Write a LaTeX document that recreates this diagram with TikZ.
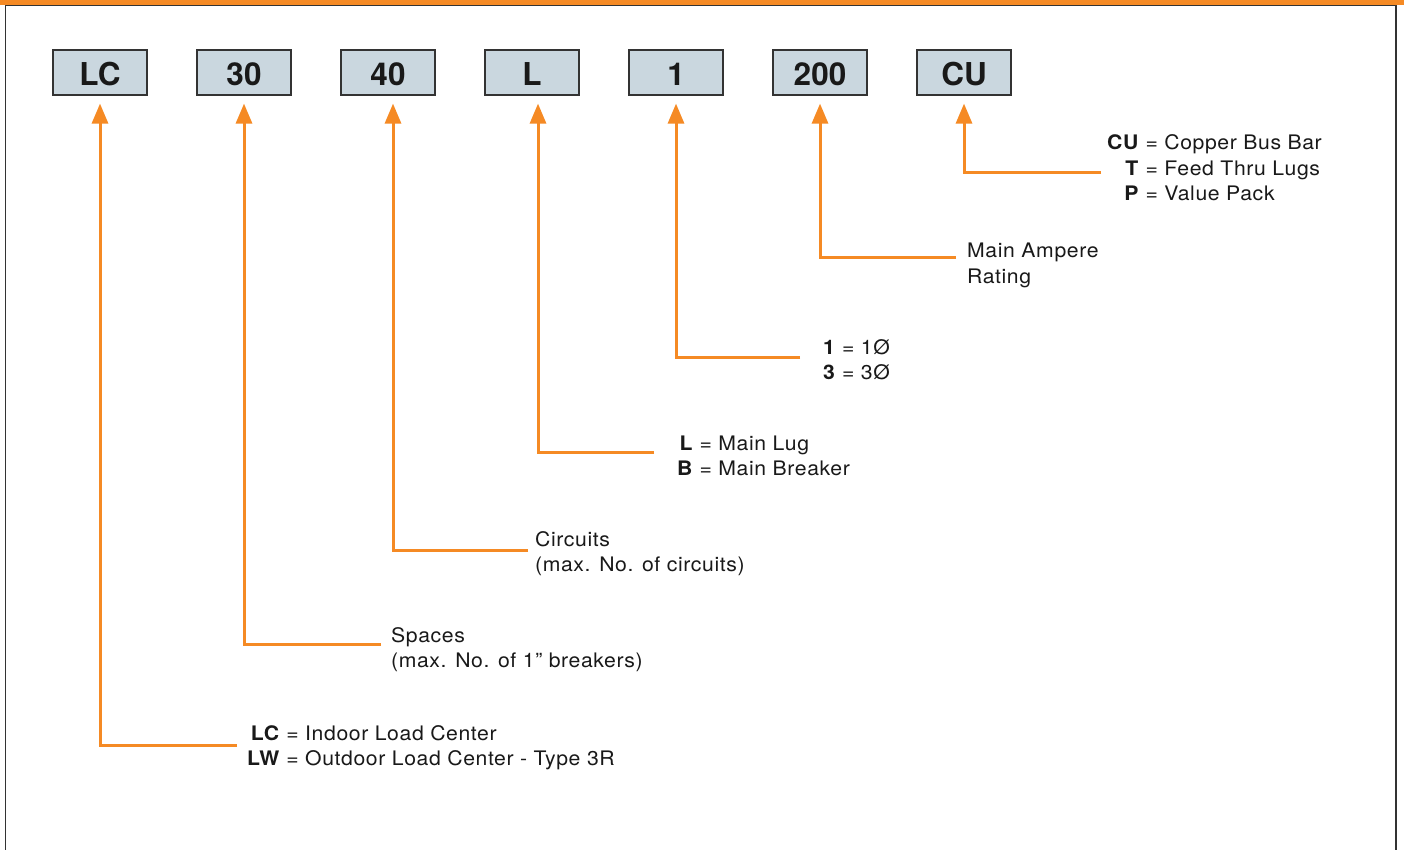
\documentclass[tikz,border=0pt]{standalone}
\usepackage{fontspec}
\setmainfont[FakeStretch=1.06,LetterSpace=3]{TeX Gyre Heros}
\newfontfamily\boxfont{TeX Gyre Heros}
\usetikzlibrary{arrows.meta}
\definecolor{eorange}{HTML}{F58A24}
\definecolor{boxfill}{HTML}{CAD7DF}
\definecolor{frame}{HTML}{333333}
\begin{document}
\begin{tikzpicture}[x=1pt,y=-1pt,
  codebox/.style={draw=frame,line width=1.2pt,fill=boxfill,minimum width=94pt,minimum height=45pt,inner sep=0pt,
    text height=26.5pt,text depth=0pt,
    font=\boxfont\fontsize{31.5}{31.5}\selectfont\bfseries,text=black!90},
  leader/.style={draw=eorange,line width=3pt,-{Triangle[width=16pt,length=20pt]},shorten >=8pt},
  lbl/.style={anchor=base west,inner sep=0pt,font=\fontsize{20}{25.5}\selectfont,text=black!90}]
\useasboundingbox (0,0) rectangle (1404,850);
% frame
\fill[white] (0,0) rectangle (1404,850);
\draw[frame,line width=1.6pt] (5.5,3) -- (5.5,850);
\draw[frame,line width=1.6pt] (1396,3) -- (1396,850);
\fill[eorange] (0,0) rectangle (1404,5);
\draw[frame,line width=0.8pt] (5.5,5.4) -- (1396,5.4);
% boxes
\node[codebox] (lc)  at (100,72.5) {LC};
\node[codebox] (n30) at (244,72.5) {30};
\node[codebox] (n40) at (388,72.5) {40};
\node[codebox] (lb)  at (532,72.5) {L};
\node[codebox] (ph)  at (676,72.5) {1};
\node[codebox] (amp) at (820,72.5) {200};
\node[codebox] (cu)  at (964,72.5) {CU};
% leader end points
\coordinate (elc)  at (237,745);
\coordinate (e30)  at (381,644);
\coordinate (e40)  at (528,550);
\coordinate (elb)  at (654,452);
\coordinate (eph)  at (800,357);
\coordinate (eamp) at (956,257);
\coordinate (ecu)  at (1101,173);
% leaders
\draw[leader] (elc)  -| (lc.south);
\draw[leader] (e30)  -| (n30.south);
\draw[leader] (e40)  -| ([xshift=5pt]n40.south);
\draw[leader] (elb)  -| ([xshift=6pt]lb.south);
\draw[leader] (eph)  -| (ph.south);
\draw[leader] (eamp) -| (amp.south);
\draw[leader] (ecu)  -| (cu.south);
% labels
\node[lbl] (tcu) at (1107,150) {\begin{tabular}[t]{@{}r@{ = }l@{}}\textbf{CU} & Copper Bus Bar\\ \textbf{T} & Feed Thru Lugs\\ \textbf{P} & Value Pack\end{tabular}};
\node[lbl] (tamp) at (967,258) {\begin{tabular}[t]{@{}l@{}}Main Ampere\\ Rating\end{tabular}};
\node[lbl] (tph) at (823,354) {\begin{tabular}[t]{@{}r@{ = }l@{}}\textbf{1} & 1Ø\\ \textbf{3} & 3Ø\end{tabular}};
\node[lbl] (tlb) at (677,450) {\begin{tabular}[t]{@{}r@{ = }l@{}}\textbf{L} & Main Lug\\ \textbf{B} & Main Breaker\end{tabular}};
\node[lbl] (t40) at (535,546) {\begin{tabular}[t]{@{}l@{}}Circuits\\ (max. No. of circuits)\end{tabular}};
\node[lbl] (t30) at (391,642) {\begin{tabular}[t]{@{}l@{}}Spaces\\ (max. No. of 1” breakers)\end{tabular}};
\node[lbl] (tlc) at (247,740) {\begin{tabular}[t]{@{}r@{ = }l@{}}\textbf{LC} & Indoor Load Center\\ \textbf{LW} & Outdoor Load Center - Type 3R\end{tabular}};
\end{tikzpicture}
\end{document}
